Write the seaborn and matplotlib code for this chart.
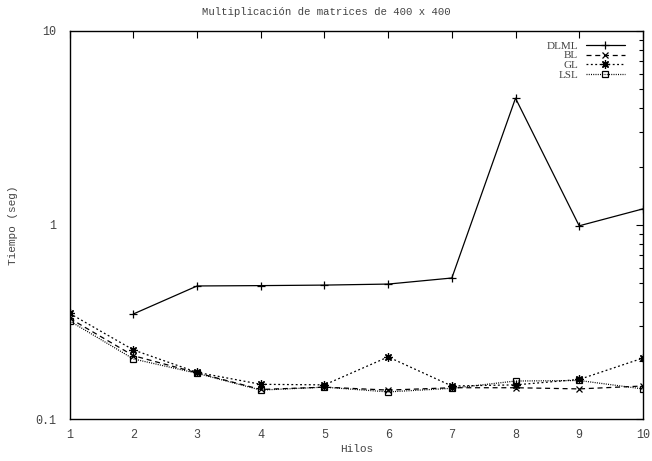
import numpy as np
import pandas as pd
import matplotlib
matplotlib.use("Agg")
import matplotlib.pyplot as plt
import seaborn as sns
from matplotlib.ticker import LogLocator, FixedLocator, NullFormatter

# data
hilos = [1, 2, 3, 4, 5, 6, 7, 8, 9, 10]
dlml = [np.nan, 0.348, 0.485, 0.487, 0.490, 0.496, 0.533, 4.5, 0.99, 1.21]
bl = [0.33, 0.212, 0.173, 0.142, 0.146, 0.141, 0.145, 0.145, 0.143, 0.148]
gl = [0.35, 0.227, 0.174, 0.151, 0.150, 0.209, 0.148, 0.150, 0.160, 0.206]
lsl = [0.32, 0.204, 0.172, 0.141, 0.146, 0.138, 0.144, 0.157, 0.158, 0.143]

series = {"DLML": dlml, "BL": bl, "GL": gl, "LSL": lsl}
estilos = {
    "DLML": dict(linestyle="-", marker="+", ms=6),
    "BL": dict(linestyle=(0, (4, 3)), marker="x", ms=5),
    "GL": dict(linestyle=(0, (1.5, 2)), marker=(8, 2, 0), ms=6),
    "LSL": dict(linestyle=(0, (0.8, 1)), marker="s", ms=5, mfc="none"),
}

sns.set_style("white")
plt.rcParams["font.family"] = ["Liberation Mono", "DejaVu Sans Mono"]
gris = "#444444"

fig = plt.figure(figsize=(6.52, 4.61), dpi=100)
ax = fig.add_axes([0.107, 0.091, 0.879, 0.842])

for nombre, vals in series.items():
    df = pd.DataFrame({"Hilos": hilos, "t": vals}).dropna()
    st = estilos[nombre]
    sns.lineplot(data=df, x="Hilos", y="t", ax=ax, color="black", lw=0.9,
                 linestyle=st["linestyle"], marker=st["marker"], ms=st["ms"],
                 mfc=st.get("mfc", "black"), mec="black", mew=0.9, label=nombre)

ax.set_yscale("log")
ax.set_xlim(1, 10)
ax.set_ylim(0.1, 10)
ax.xaxis.set_major_locator(FixedLocator(hilos))
ax.set_xticklabels([str(h) for h in hilos])
ax.yaxis.set_major_locator(FixedLocator([0.1, 1, 10]))
ax.set_yticklabels(["0.1", "1", "10"])
ax.yaxis.set_minor_locator(LogLocator(base=10, subs=np.arange(2, 10)))
ax.yaxis.set_minor_formatter(NullFormatter())
ax.tick_params(which="both", direction="in", top=True, right=True,
               labelsize=8.5, colors="black", labelcolor=gris)
ax.tick_params(which="major", length=5, width=0.8)
ax.tick_params(which="minor", length=3, width=0.8)
ax.tick_params(axis="x", pad=7)
ax.tick_params(axis="y", pad=10)
for s in ax.spines.values():
    s.set_color("black")
    s.set_linewidth(1.0)

ax.set_xlabel("Hilos", fontsize=8, color=gris, labelpad=2)
ax.set_ylabel("Tiempo (seg)", fontsize=8, color=gris, labelpad=12)
fig.text(0.5, 0.985, "Multiplicación de matrices de 400 x 400", fontsize=7.7,
         color=gris, ha="center", va="top")

leg = ax.legend(loc="upper right", frameon=False, markerfirst=False,
                prop={"family": "Liberation Serif", "size": 8},
                handlelength=3.5, labelspacing=0.0, borderaxespad=0.3,
                borderpad=0.6, handletextpad=0.7)
leg.set_bbox_to_anchor((0.986, 1.0), transform=ax.transAxes)
for t in leg.get_texts():
    t.set_color(gris)

fig.savefig("out.png", dpi=100)
